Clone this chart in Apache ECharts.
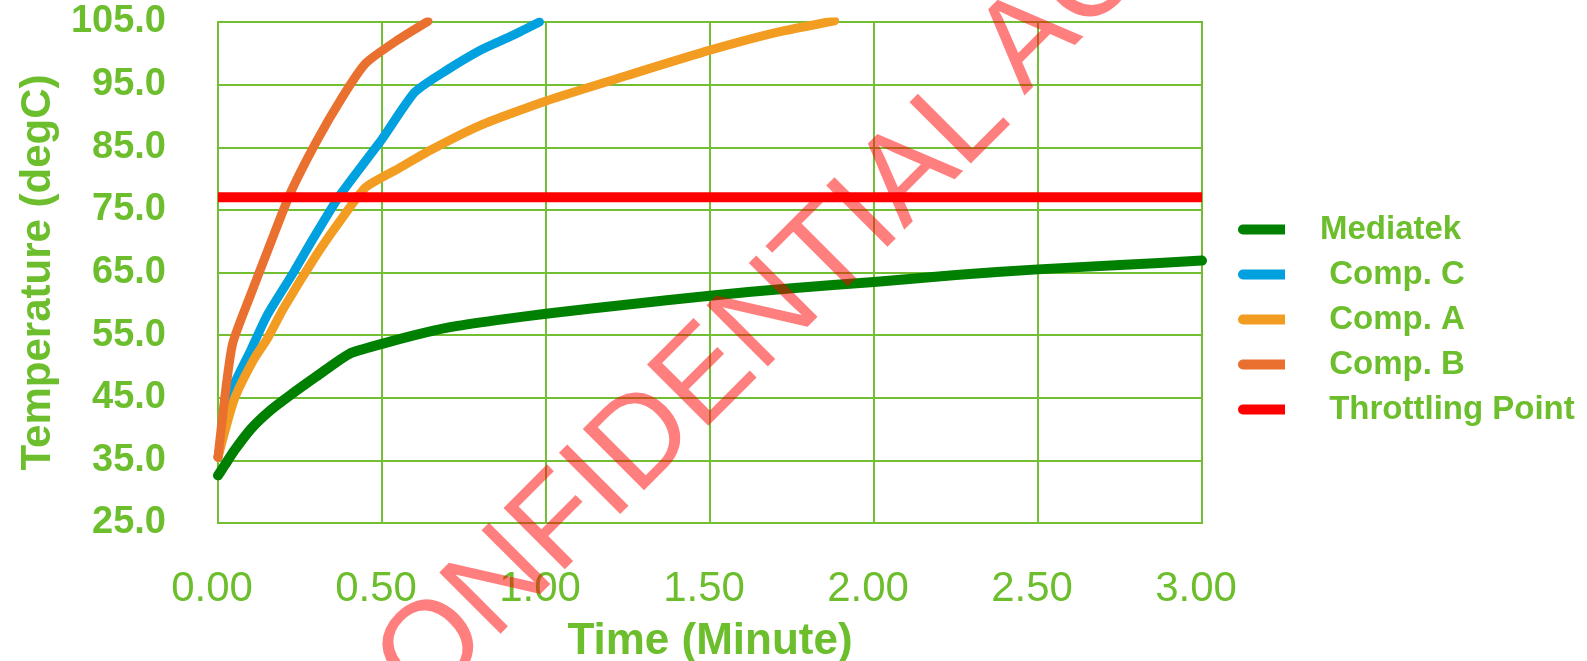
<!DOCTYPE html>
<html>
<head>
<meta charset="utf-8">
<script src="https://cdn.jsdelivr.net/npm/echarts@6/dist/echarts.min.js"></script>
<style>
  html, body { margin: 0; padding: 0; background: #ffffff; }
  #chart { width: 1587px; height: 661px; }
</style>
</head>
<body>
<div id="chart"></div>
<script>
// Series names as they appear in the legend
const seriesNames = ['Mediatek', ' Comp. C', ' Comp. A', ' Comp. B', ' Throttling Point'];

// Temperature readings: [time (minute), temperature (degC)]
const mediatek = [
  [0, 32.6], [0.02, 34.2], [0.05, 36.6], [0.1, 40.0], [0.16, 43.0], [0.22, 45.4],
  [0.3, 48.4], [0.4, 52.0], [0.5, 53.6], [0.6, 55.0], [0.7, 56.2], [0.85, 57.4],
  [1.0, 58.4], [1.25, 59.9], [1.5, 61.3], [1.75, 62.5], [2.0, 63.5], [2.25, 64.6],
  [2.5, 65.5], [2.75, 66.2], [3.0, 66.9]
];
const compC = [
  [0, 35.5], [0.04, 46.0], [0.1, 52.6], [0.15, 58.2], [0.23, 65.0], [0.29, 70.4],
  [0.37, 77.2], [0.5, 86.3], [0.6, 93.8], [0.7, 97.4], [0.8, 100.5], [0.9, 102.9],
  [0.98, 105.0]
];
const compA = [
  [0, 35.5], [0.05, 44.8], [0.11, 51.2], [0.15, 54.4], [0.2, 59.3], [0.3, 67.8],
  [0.38, 73.8], [0.45, 78.6], [0.55, 81.6], [0.65, 84.6], [0.8, 88.5], [1.0, 92.4],
  [1.25, 96.5], [1.5, 100.5], [1.7, 103.3], [1.88, 105.2]
];
const compB = [
  [0, 35.5], [0.043, 53.3], [0.1, 61.5], [0.15, 68.3], [0.22, 77.6], [0.3, 85.9],
  [0.38, 93.1], [0.45, 98.4], [0.55, 102.2], [0.64, 105.1]
];
const throttling = [[0, 77], [3, 77]];

// Axis ranges
const timeMin = 0, timeMax = 3, timeStep = 0.5;
const tempMin = 25, tempMax = 105, tempStep = 10;

const seriesData = [mediatek, compC, compA, compB, throttling];
const seriesColors = ['#008000', '#00a1de', '#f39c22', '#e9702f', '#ff0000'];
const seriesWidths = [10, 9, 9, 9, 10];

const textGreen = '#6cbe2c';
const gridGreen = '#72bf34';
const fontFamily = '"Liberation Sans", Arial, sans-serif';

const chart = echarts.init(document.getElementById('chart'), null, { renderer: 'canvas' });

// Watermark, drawn above the plot
const markFont = 126;
const markAngle = Math.PI / 4;

chart.setOption({
  backgroundColor: '#ffffff',
  animation: false,
  grid: {
    left: 218, right: 385, top: 22, bottom: 138,
    outerBoundsMode: 'none',
    show: true, borderColor: gridGreen, borderWidth: 2
  },
  xAxis: {
    type: 'value',
    min: timeMin, max: timeMax, interval: timeStep,
    name: 'Time (Minute)',
    nameLocation: 'middle',
    nameGap: 97,
    nameTextStyle: { color: textGreen, fontFamily, fontWeight: 'bold', fontSize: 44 },
    axisLine: { show: true, lineStyle: { color: gridGreen, width: 2 } },
    axisTick: { show: false },
    axisLabel: {
      color: textGreen, fontFamily, fontSize: 42, margin: 45,
      padding: [0, 12, 0, 0],
      formatter: v => v.toFixed(2)
    },
    splitLine: { show: true, lineStyle: { color: gridGreen, width: 2 } }
  },
  yAxis: {
    type: 'value',
    min: tempMin, max: tempMax, interval: tempStep,
    name: 'Temperature (degC)',
    nameLocation: 'middle',
    nameGap: 159,
    nameRotate: 90,
    nameTextStyle: { color: textGreen, fontFamily, fontWeight: 'bold', fontSize: 42 },
    axisLine: { show: true, lineStyle: { color: gridGreen, width: 2 } },
    axisTick: { show: false },
    axisLabel: {
      color: textGreen, fontFamily, fontWeight: 'bold', fontSize: 38, margin: 52,
      formatter: v => v.toFixed(1)
    },
    splitLine: { show: true, lineStyle: { color: gridGreen, width: 2 } }
  },
  legend: {
    orient: 'vertical',
    left: 1233, top: 208,
    itemWidth: 47, itemHeight: 10, itemGap: 12,
    icon: 'path://M5,0 H47 V10 H5 A5,5 0 0 1 5,0 Z',
    data: seriesNames,
    textStyle: {
      color: textGreen, fontFamily, fontWeight: 'bold', fontSize: 33,
      lineHeight: 33, padding: [0, 0, 0, 30]
    },
    selectedMode: false
  },
  series: seriesNames.map((name, i) => ({
    name,
    type: 'line',
    data: seriesData[i],
    color: seriesColors[i],
    showSymbol: false,
    symbol: 'none',
    smooth: i === 4 ? false : 0.2,
    clip: true,
    lineStyle: {
      color: seriesColors[i], width: seriesWidths[i],
      cap: i === 4 ? 'butt' : 'round', join: 'round'
    },
    z: 2 + i
  })),
  graphic: [
    {
      type: 'text', z: 100,
      x: 335, y: 750, rotation: markAngle,
      style: {
        text: 'CONFIDENTIAL', fill: 'rgba(255,0,0,0.5)',
        font: markFont + 'px ' + fontFamily,
        align: 'left', verticalAlign: 'middle'
      },
      silent: true
    },
    {
      type: 'text', z: 100,
      x: 999.6, y: 71.3, rotation: markAngle,
      style: {
        text: 'AC', fill: 'rgba(255,0,0,0.5)',
        font: markFont + 'px ' + fontFamily,
        align: 'left', verticalAlign: 'middle'
      },
      silent: true
    }
  ]
});
</script>
</body>
</html>
